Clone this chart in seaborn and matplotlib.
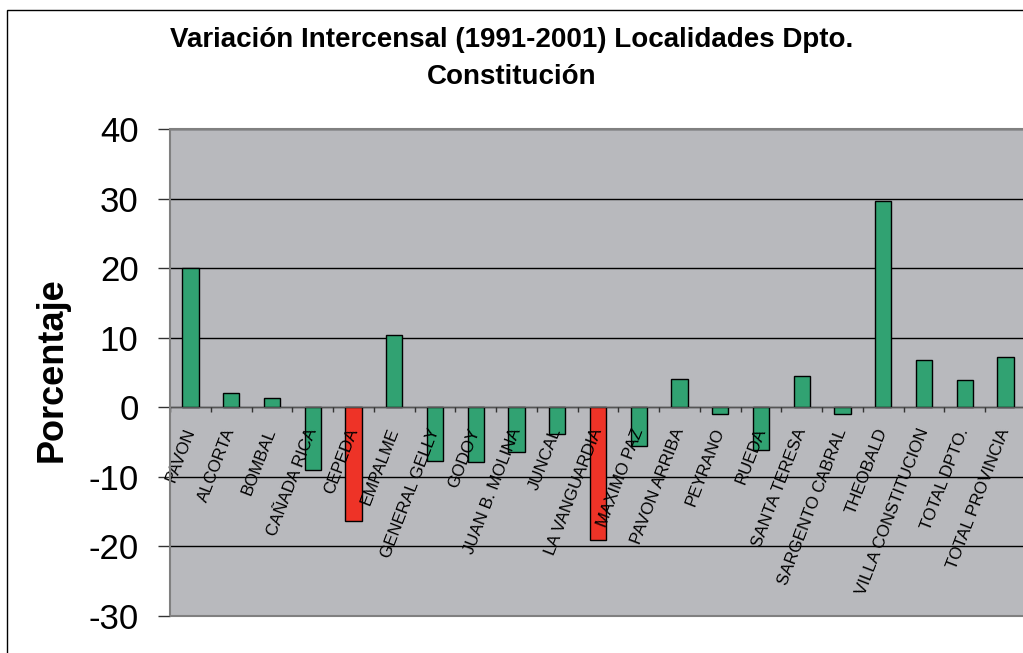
import matplotlib
matplotlib.use("Agg")
import matplotlib.pyplot as plt
import seaborn as sns
import pandas as pd
from matplotlib.patches import Rectangle
from matplotlib.ticker import MultipleLocator

# Data
localidades = ["PAVON", "ALCORTA", "BOMBAL", "CAÑADA RICA", "CEPEDA", "EMPALME",
               "GENERAL GELLY", "GODOY", "JUAN B. MOLINA", "JUNCAL", "LA VANGUARDIA",
               "MAXIMO PAZ", "PAVON ARRIBA", "PEYRANO", "RUEDA", "SANTA TERESA",
               "SARGENTO CABRAL", "THEOBALD", "VILLA CONSTITUCION", "TOTAL DPTO.",
               "TOTAL PROVINCIA"]
variacion = [20.0, 2.0, 1.3, -9.0, -16.3, 10.4, -7.7, -7.8, -6.4, -3.9, -19.1,
             -5.6, 4.0, -1.0, -6.1, 4.5, -1.0, 29.6, 6.8, 3.9, 7.2]
destacadas = ["CEPEDA", "LA VANGUARDIA"]
y_ticks = [-30, -20, -10, 0, 10, 20, 30, 40]

Data = pd.DataFrame({"localidad": localidades, "variacion": variacion})

verde = "#31a272"
rojo = "#ee3327"
paleta = {loc: (rojo if loc in destacadas else verde) for loc in localidades}

sns.set_style("white")
plt.rcParams["font.family"] = ["Liberation Sans", "DejaVu Sans"]
plt.rcParams["axes.unicode_minus"] = False
plt.rcParams["text.color"] = "black"
plt.rcParams["axes.labelcolor"] = "black"
plt.rcParams["xtick.color"] = "black"
plt.rcParams["ytick.color"] = "black"

fig = plt.figure(figsize=(10.23, 6.53), dpi=100)
ax = fig.add_axes([170 / 1023, 1 - 616 / 653, 856 / 1023, 487 / 653])
ax.set_facecolor("#b8b9bd")

sns.barplot(data=Data, x="localidad", y="variacion", hue="localidad",
            palette=paleta, legend=False, width=0.4, edgecolor="black",
            linewidth=1, saturation=1, ax=ax, zorder=2)

# horizontal gridlines behind bars, category labels on top of them
ax.set_ylim(y_ticks[0], y_ticks[-1])
ax.set_xlim(-0.5, len(localidades) - 0.5)
ax.set_yticks(y_ticks)
ax.yaxis.grid(True, color="black", linewidth=1)
ax.yaxis.set_zorder(0.5)
ax.xaxis.set_zorder(5)

# category axis sits at zero
for s in ["top", "right", "left"]:
    ax.spines[s].set_color("#555555")
    ax.spines[s].set_linewidth(1.2)
ax.spines["bottom"].set_position(("data", 0))
ax.spines["bottom"].set_color("#555555")
ax.add_patch(Rectangle((0, 0), 1, 1, transform=ax.transAxes, fill=False,
                       edgecolor="#808080", linewidth=1.5, zorder=6, clip_on=False))

ax.xaxis.set_minor_locator(MultipleLocator(1, offset=0.5))
ax.tick_params(axis="x", which="major", length=0, pad=15.5, labelsize=12.2,
               labelcolor="black")
ax.tick_params(axis="x", which="minor", bottom=True, length=3.5, width=1,
               color="#333333", direction="out")
for lbl in ax.get_xticklabels():
    lbl.set_rotation(69)
    lbl.set_rotation_mode("anchor")
    lbl.set_ha("right")
    lbl.set_va("center")

ax.tick_params(axis="y", left=True, length=8.6, width=1, color="#333333",
               pad=14, labelsize=25, labelcolor="black")

ax.set_xlabel("")
ax.set_ylabel("Porcentaje", fontsize=26, fontweight="bold", color="black")
ax.yaxis.set_label_coords(-0.138, 0.505)
ax.yaxis.label.set_va("center")

fig.suptitle("Variación Intercensal (1991-2001) Localidades Dpto.\nConstitución",
             x=0.5, y=1 - 27 / 653, va="top", fontsize=20, fontweight="bold",
             linespacing=1.55, color="black")

# chart border
fig.patches.append(Rectangle((7 / 1023, -0.05), 1.1, 1 - 10 / 653 + 0.05,
                             transform=fig.transFigure, fill=False,
                             edgecolor="black", linewidth=1))

fig.savefig("out.png", dpi=100)
